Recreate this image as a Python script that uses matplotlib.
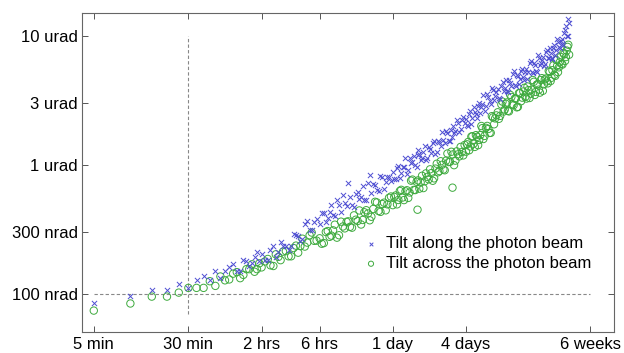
import matplotlib
matplotlib.use("Agg")
import matplotlib.pyplot as plt
from matplotlib.ticker import FixedLocator, NullLocator

plt.rcParams['font.family'] = ['Liberation Sans', 'DejaVu Sans']

# ---- data: time in minutes, tilt in nrad ----
times_a = [5, 10, 15, 20, 25, 30, 35,
           40, 45, 50, 55, 60, 70, 80, 90, 100, 110,
           120, 135, 150, 165, 180, 200, 220, 240, 260, 285, 310, 340,
           360, 390, 420, 450, 480, 520, 560, 600, 640, 690, 740, 790, 840, 900, 960,
           1030, 1100, 1180, 1260, 1340,
           1440, 1520, 1600, 1690, 1780, 1880, 1980, 2090, 2200, 2320, 2440, 2570, 2700,
           2840, 2990, 3150, 3310, 3480, 3660, 3850, 4050, 4260, 4480, 4710, 4950, 5200, 5470,
           5760, 6000, 6250, 6500, 6800, 7100, 7400, 7700, 8000, 8400, 8800, 9200, 9600,
           10000, 10500, 11000, 11500, 12000, 12500, 13000, 13600, 14200, 14800, 15400,
           16000, 16700, 17400, 18100, 18800, 19600, 20400, 21200, 22000, 22900, 23800,
           24700, 25600, 26600, 27600, 28600, 29600, 30700, 31800, 32900, 34000, 35200,
           36400, 37600, 38800, 40000]

along_a = [85, 96, 107, 107, 120, 111, 128,
           137, 128, 149, 133, 149, 171, 150, 180, 172, 209,
           203, 181, 236, 209, 236, 218, 289, 278, 267, 366, 314, 380,
           345, 421, 388, 487, 400, 484, 582, 475, 559, 474, 619, 562, 536, 726, 600,
           700, 621, 801, 730, 808,
           872, 772, 983, 863, 962, 845, 1120, 1050, 994, 1310, 1083, 1263, 1094,
           1375, 1238, 1522, 1265, 1494, 1797, 1485, 1749, 1531, 1998, 1833, 2106, 1879, 2350,
           2268, 2011, 2622, 2294, 2550, 2306, 3003, 2822, 3463, 2864, 3350, 2970, 3808,
           3385, 3888, 3228, 4405, 3950, 3744, 4556, 4085, 5348, 4041, 4836,
           4579, 5537, 4536, 5532, 5194, 6322, 5152, 5933, 5210, 6771, 6111,
           6858, 6052, 7809, 6698, 7395, 6631, 8525, 7728, 9018, 8045, 9450,
           8460, 10976, 9894, 13375]

across_a = [74, 84, 95, 95, 102, 111, 111,
            111, 125, 115, 136, 127, 143, 132, 155, 169, 155,
            160, 186, 164, 193, 212, 195, 226, 208, 267, 249, 298, 258,
            269, 247, 306, 282, 343, 284, 332, 361, 330, 405, 366, 344, 428, 419, 395,
            516, 438, 496, 443, 554,
            486, 578, 533, 639, 532, 634, 609, 767, 636, 756, 728, 659, 857,
            770, 861, 784, 1018, 893, 999, 906, 1221, 1055, 1201, 1076, 1204, 1374, 1181,
            1262, 1501, 1384, 1663, 1374, 1646, 1556, 1997, 1582, 1931, 1894, 1765, 2329,
            2285, 2550, 2392, 3082, 2677, 3039, 2590, 3349, 2895, 3265, 2810,
            3597, 3312, 3944, 3257, 3791, 3552, 4536, 3474, 4176, 3819, 4532,
            3740, 4576, 4423, 5345, 4450, 5404, 4982, 6494, 5220, 6232, 6048,
            7336, 6371, 7668, 8510]

times_b = [65, 75, 85, 95, 105, 115,
           128, 142, 157, 172, 190, 210, 230, 250, 272, 298, 325,
           375, 405, 435, 465, 500, 540, 580, 620, 665, 715, 765, 815, 870, 930, 995,
           1065, 1140, 1220, 1300, 1390,
           1480, 1560, 1645, 1735, 1830, 1930, 2035, 2145, 2260, 2380, 2505, 2635, 2770,
           2915, 3070, 3230, 3395, 3570, 3755, 3950, 4155, 4370, 4595, 4830, 5075, 5335, 5610,
           5880, 6125, 6375, 6650, 6950, 7250, 7550, 7850, 8200, 8600, 9000, 9400, 9800,
           10250, 10750, 11250, 11750, 12250, 12750, 13300, 13900, 14500, 15100, 15700,
           16350, 17050, 17750, 18450, 19200, 20000, 20800, 21600, 22450, 23350, 24250,
           25150, 26100, 27100, 28100, 29100, 30150, 31250, 32350, 33450, 34600,
           35800, 37000, 38200, 39400, 40600,
           2300, 4460]

along_b = [162, 149, 182, 163, 191, 179,
           184, 218, 193, 250, 235, 235, 287, 256, 345, 310, 359,
           420, 361, 431, 409, 533, 428, 507, 725, 488, 589, 538, 688, 532, 836, 713,
           635, 818, 652, 810, 754,
           774, 951, 785, 961, 1121, 911, 1040, 1166, 964, 1204, 1125, 1389, 1133,
           1321, 1469, 1210, 1534, 1406, 1560, 1841, 1533, 1848, 1762, 2235, 1787, 2235, 2089,
           2045, 2481, 2087, 2812, 2483, 2836, 2539, 2963, 2627, 3511, 3115, 3953, 3169,
           3687, 3290, 4109, 3696, 4531, 3630, 4282, 5058, 4166, 4917, 4239,
           5367, 4771, 5243, 4659, 6128, 5194, 6134, 5314, 7032, 5890, 6513,
           5773, 7425, 6742, 8080, 6762, 7980, 7110, 9430, 8160, 9085,
           8556, 10464, 11800, 9928, 12540,
           1180, 1650]

across_b = [129, 147, 140, 155, 148, 172,
            178, 166, 202, 182, 214, 195, 236, 234, 232, 284, 257,
            244, 301, 276, 310, 272, 362, 321, 364, 325, 375, 442, 373, 444, 371, 454,
            510, 431, 508, 493, 567,
            563, 493, 626, 557, 622, 553, 752, 638, 738, 652, 821, 744, 806,
            921, 751, 933, 874, 1064, 918, 1076, 1049, 1260, 992, 1269, 1161, 1254, 1422,
            1440, 1295, 1652, 1455, 1695, 1417, 1698, 1922, 1673, 1999, 1764, 2380, 2058,
            2412, 2270, 2930, 2584, 2968, 2616, 3481, 2944, 3250, 2784, 3592,
            3106, 3694, 3360, 4040, 3290, 3815, 4393, 3666, 4219, 3622, 4687,
            4195, 4659, 4273, 5243, 4722, 5900, 4883, 5845, 5688, 6854,
            5975, 7169, 6836, 8193, 7125,
            448, 664]

xtick_vals = [5, 30, 120, 360, 1440, 5760, 60480]
xtick_labels = ['5 min', '30 min', '2 hrs', '6 hrs', '1 day', '4 days', '6 weeks']
ytick_vals = [100, 300, 1000, 3000, 10000]
ytick_labels = ['100 nrad', '300 nrad', '1 urad', '3 urad', '10 urad']

fig = plt.figure(figsize=(6.24, 3.53), dpi=100)
ax = fig.add_axes([82/624, 1 - 332/353, (614-82)/624, (332-13)/353])

blue = '#4e4ed2'
green = '#3eaa3e'
ax.scatter(times_a + times_b, along_a + along_b, marker='x', s=14, color=blue,
           linewidths=0.7, label='Tilt along the photon beam', zorder=3)
ax.scatter(times_a + times_b, across_a + across_b, marker='o', s=28,
           facecolors='none', edgecolors=green, linewidths=0.7,
           label='Tilt across the photon beam', zorder=2)

ax.plot([30, 30], [70, 10000], ls=(0, (3, 2)), color='#888888', lw=0.8, zorder=1)
ax.plot([5, 60480], [100, 100], ls=(0, (3, 2)), color='#888888', lw=0.8, zorder=1)

ax.set_xscale('log')
ax.set_yscale('log')
ax.set_xlim(4.0, 95000)
ax.set_ylim(50.5, 15000)

ax.xaxis.set_major_locator(FixedLocator(xtick_vals))
ax.set_xticklabels(xtick_labels)
ax.xaxis.set_minor_locator(NullLocator())
ax.yaxis.set_major_locator(FixedLocator(ytick_vals))
ax.set_yticklabels(ytick_labels)
ax.yaxis.set_minor_locator(NullLocator())

ax.tick_params(which='major', direction='in', length=4, width=0.7, color='#555555',
               top=True, right=True, labelsize=12, pad=3)
ax.tick_params(axis='x', pad=3.5)
for sp in ax.spines.values():
    sp.set_color('#666666')
    sp.set_linewidth(0.8)

leg = ax.legend(loc='lower right', bbox_to_anchor=(0.97, 0.17), frameon=False,
                fontsize=12, handletextpad=0.3, borderaxespad=0, labelspacing=0.3,
                markerscale=0.7, handlelength=1.2)

fig.savefig('out.png', dpi=100)
